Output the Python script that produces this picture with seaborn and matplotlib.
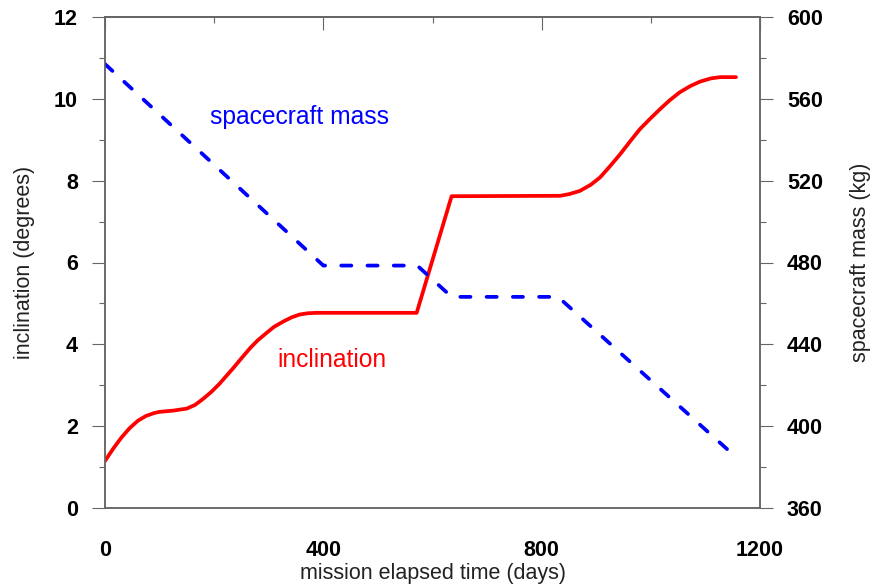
import matplotlib
matplotlib.use("Agg")
import matplotlib.pyplot as plt
from matplotlib.ticker import MultipleLocator
import seaborn as sns
import pandas as pd

# ---- data ----
incl_days = [0, 15, 30, 45, 60, 75, 90, 100, 125, 150, 165, 180, 195, 210, 235,
             250, 266, 280, 296, 310, 327, 342, 357, 372, 388, 571, 635, 834, 850,
             870, 890, 907, 925, 944, 962, 980, 1000, 1017, 1035, 1053, 1072, 1090,
             1110, 1127, 1156]
incl_deg = [1.15, 1.45, 1.72, 1.95, 2.13, 2.25, 2.32, 2.35, 2.38, 2.43, 2.52, 2.67,
            2.84, 3.04, 3.42, 3.66, 3.91, 4.10, 4.28, 4.43, 4.56, 4.66, 4.73, 4.76,
            4.77, 4.77, 7.62, 7.63, 7.67, 7.75, 7.90, 8.08, 8.35, 8.65, 8.96, 9.26,
            9.53, 9.75, 9.97, 10.16, 10.31, 10.42, 10.50, 10.53, 10.53]
mass_days = [0, 400, 572, 635, 830, 1140]
mass_kg = [577, 478.5, 478.5, 463.2, 463.2, 388.7]

x_ticks = [0, 400, 800, 1200]
left_ticks = [0, 2, 4, 6, 8, 10, 12]
right_ticks = [360, 400, 440, 480, 520, 560, 600]

sns.set_style("white")
plt.rcParams['font.family'] = ['Liberation Sans', 'DejaVu Sans']

df_incl = pd.DataFrame({"day": incl_days, "incl": incl_deg})
df_mass = pd.DataFrame({"day": mass_days, "mass": mass_kg})

fig = plt.figure(figsize=(8.74, 5.85), dpi=100)
ax = fig.add_axes([105/874, 1-508/585, (760-105)/874, (508-17)/585])
ax2 = ax.twinx()

sns.lineplot(data=df_incl, x="day", y="incl", ax=ax, color="#ff0000", lw=2.7,
             estimator=None, sort=False)
sns.lineplot(data=df_mass, x="day", y="mass", ax=ax2, color="#0000ff", lw=2.7,
             estimator=None, sort=False)
ln = ax2.get_lines()[0]
ln.set_dashes([2.7, 4.3])
ln.set_dash_capstyle("round")
ax.get_lines()[0].set_solid_joinstyle("round")

ax.set_xlim(0, 1200)
ax.set_ylim(0, 12)
ax2.set_ylim(360, 600)
ax.set_xticks(x_ticks)
ax.set_yticks(left_ticks)
ax2.set_yticks(right_ticks)
ax.xaxis.set_minor_locator(MultipleLocator(200))
ax.yaxis.set_minor_locator(MultipleLocator(1))
ax2.yaxis.set_minor_locator(MultipleLocator(20))

spine_c = "#666666"
for a in (ax, ax2):
    for s in a.spines.values():
        s.set_color(spine_c)
        s.set_linewidth(1.1)
        s.set_visible(True)

tick_fs = 15.5
ax.tick_params(axis="both", which="major", direction="out", length=9.4, width=0.8,
               color=spine_c, labelsize=tick_fs, labelcolor="black")
ax.tick_params(axis="both", which="minor", direction="out", length=4.3, width=0.8,
               color=spine_c)
ax.tick_params(axis="x", which="major", pad=14)
ax.tick_params(axis="y", which="major", pad=10)
ax2.tick_params(axis="y", which="major", direction="out", length=9.4, width=0.8,
                color=spine_c, labelsize=tick_fs, labelcolor="black", pad=10)
ax2.tick_params(axis="y", which="minor", direction="out", length=4.3, width=0.8,
                color=spine_c)
for lab in ax.get_xticklabels() + ax.get_yticklabels() + ax2.get_yticklabels():
    lab.set_fontweight("bold")

sec = ax.secondary_xaxis("top")
sec.set_xticks(x_ticks)
sec.xaxis.set_minor_locator(MultipleLocator(200))
sec.tick_params(axis="x", which="major", direction="in", length=9.4, width=0.8,
                color=spine_c, labeltop=False)
sec.tick_params(axis="x", which="minor", direction="in", length=4.3, width=0.8,
                color=spine_c)
sec.spines["top"].set_color(spine_c)
sec.spines["top"].set_linewidth(1.1)

lab_fs = 15.5
ax.set_xlabel("mission elapsed time (days)", fontsize=lab_fs, color="#222222")
ax.set_ylabel("inclination (degrees)", fontsize=lab_fs, color="#222222")
ax2.set_ylabel("spacecraft mass (kg)", fontsize=lab_fs, color="#222222")
ax.xaxis.set_label_coords(0.5, -0.112)
ax.yaxis.set_label_coords(-0.107, 0.5)
ax2.yaxis.set_label_coords(1.137, 0.5)

ax.text(192, 9.55, "spacecraft mass", color="#0000ff", fontsize=17.7, va="center")
ax.text(315, 3.62, "inclination", color="#ff0000", fontsize=17.7, va="center")

fig.savefig("out.png", dpi=100, facecolor="white")
